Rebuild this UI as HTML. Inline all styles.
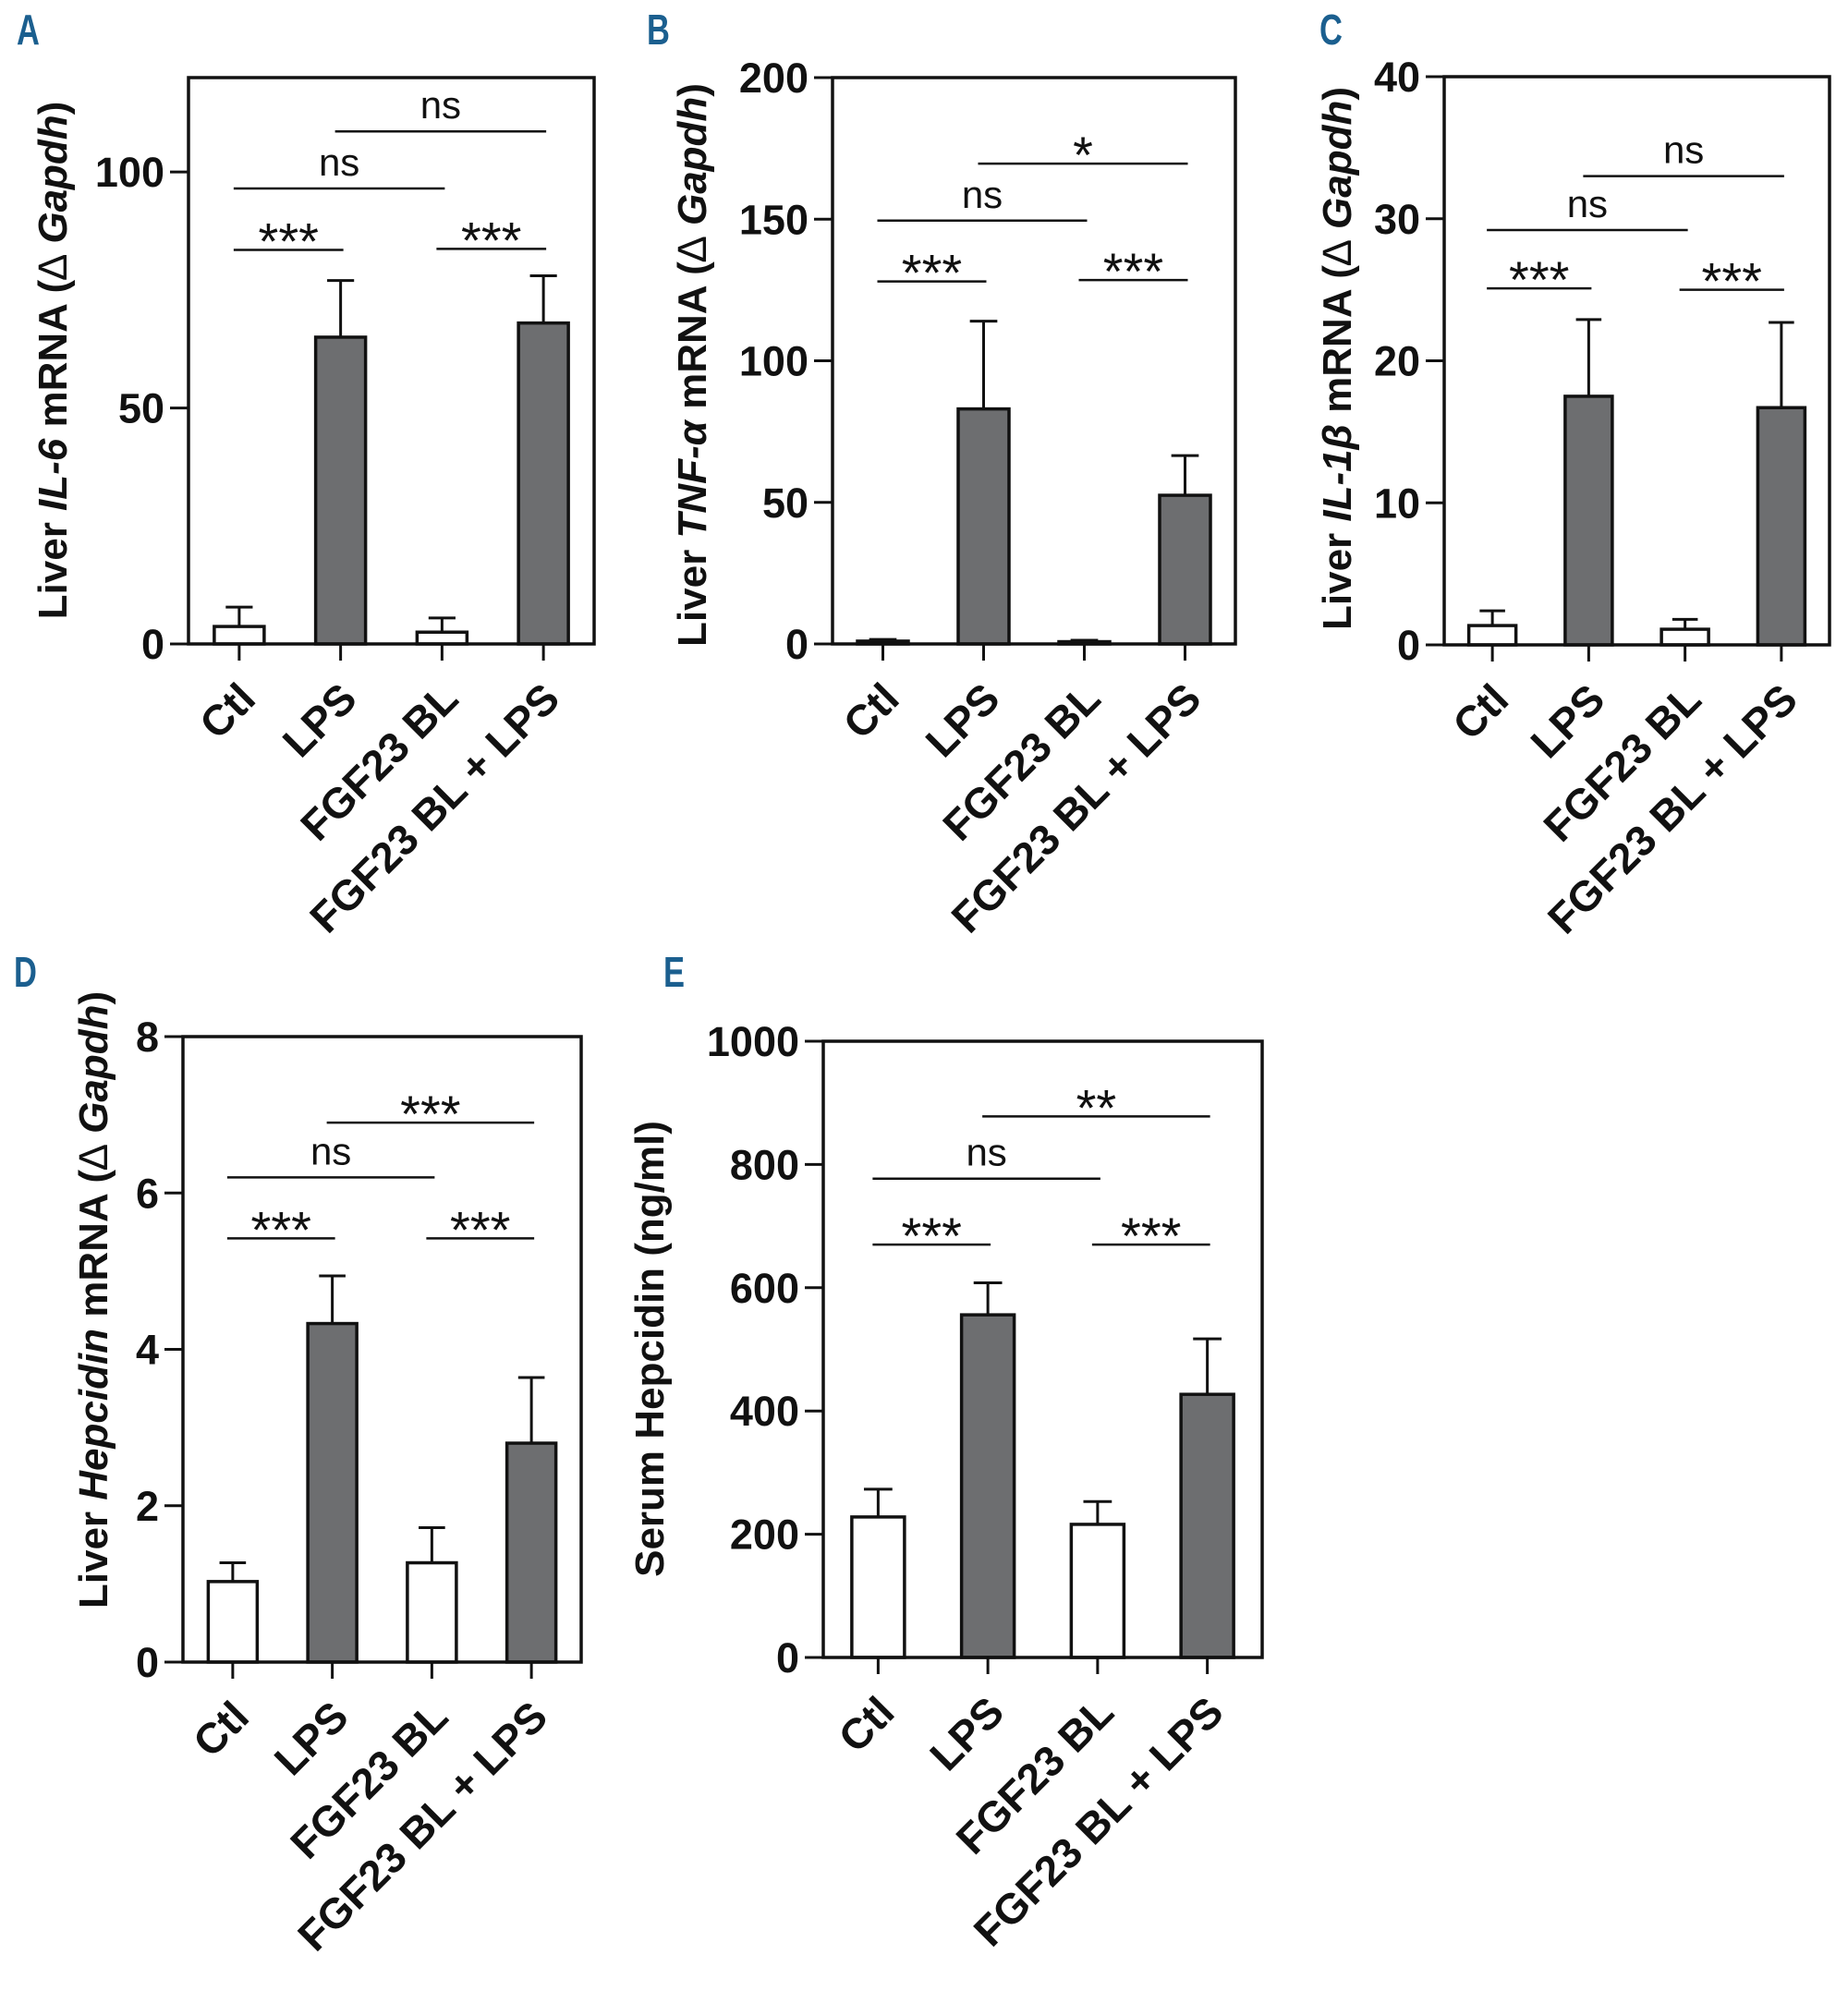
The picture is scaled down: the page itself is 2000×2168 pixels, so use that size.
<!DOCTYPE html>
<html><head><meta charset="utf-8">
<style>
html,body{margin:0;padding:0;background:#fff;}
svg{display:block;font-family:"Liberation Sans",Arial,sans-serif;}
</style></head>
<body>
<svg id="fig" width="2000" height="2168" viewBox="0 0 2000 2168" xmlns="http://www.w3.org/2000/svg"></svg>
<script>
// ---- data ----
const categories = ["Ctl", "LPS", "FGF23 BL", "FGF23 BL + LPS"];
const darkBars = [false, true, false, true];

const aMeans = [3.7, 65, 2.5, 68];
const aErrs = [4.1, 12, 3.0, 10];
const aTicks = [0, 50, 100];
const aBrackets = [[0,1,83.5,"***"],[2,3,83.7,"***"],[0,2,96.5,"ns"],[1,3,108.6,"ns"]];

const bMeans = [1.0, 83, 0.8, 52.5];
const bErrs = [0.6, 31, 0.5, 14];
const bTicks = [0, 50, 100, 150, 200];
const bBrackets = [[0,1,128,"***"],[2,3,128.5,"***"],[0,2,149.5,"ns"],[1,3,169.6,"*"]];

const cMeans = [1.36, 17.5, 1.1, 16.7];
const cErrs = [1.04, 5.4, 0.7, 6.0];
const cTicks = [0, 10, 20, 30, 40];
const cBrackets = [[0,1,25.1,"***"],[2,3,25,"***"],[0,2,29.2,"ns"],[1,3,33.0,"ns"]];

const dMeans = [1.03, 4.33, 1.27, 2.8];
const dErrs = [0.24, 0.61, 0.45, 0.84];
const dTicks = [0, 2, 4, 6, 8];
const dBrackets = [[0,1,5.42,"***"],[2,3,5.42,"***"],[0,2,6.2,"ns"],[1,3,6.9,"***"]];

const eMeans = [228, 556, 216, 427];
const eErrs = [45, 52, 37, 90];
const eTicks = [0, 200, 400, 600, 800, 1000];
const eBrackets = [[0,1,670,"***"],[2,3,670,"***"],[0,2,777,"ns"],[1,3,878,"**"]];

// ---- rendering ----
const NS = "http://www.w3.org/2000/svg";
const svg = document.getElementById("fig");
function mk(tag, attrs, parent){
  const e = document.createElementNS(NS, tag);
  for (const k in attrs) e.setAttribute(k, attrs[k]);
  (parent||svg).appendChild(e);
  return e;
}

function panel(p){
  const g = mk("g", {});
  
  
  const yS = v => p.y0 - (v - 0) / p.ymax * (p.y0 - p.top);
  const bw = (p.right - p.left) / categories.length;
  const xS = i => p.left + (i + 0.5) * bw;
  const barW = p.barW;

  const L = mk("text", {x:p.lx, y:p.ly, "font-size":46, "font-weight":"bold", fill:"#1b5f8f", transform:`translate(${p.lx} ${p.ly}) scale(0.75 1) translate(${-p.lx} ${-p.ly})`}, g);
  L.textContent = p.letter;
  
  

  categories.forEach((c, i) => {
    const x = xS(i), y = yS(p.means[i]), ye = yS(p.means[i] + p.errs[i]);
    const eb = mk("path", {d:`M${x} ${y}V${ye}M${x-barW*0.27} ${ye}H${x+barW*0.27}`, stroke:"#111", "stroke-width":3, fill:"none"}, g);
    
    
    const r = mk("rect", {x:x-barW/2, y:y, width:barW, height:p.y0-y, fill:darkBars[i]?"#6d6e70":"#fff", stroke:"#111", "stroke-width":3.5}, g);
    
    
    const t = mk("line", {x1:x, x2:x, y1:p.y0, y2:p.y0+18, stroke:"#111", "stroke-width":3}, g);
    
    
    const lab = mk("text", {transform:`translate(${x+20} ${p.y0+62}) rotate(-45)`, "text-anchor":"end", "font-size":46, "font-weight":"bold", fill:"#111"}, g);
    lab.textContent = c;
    
    
  });

  const fr = mk("path", {d:`M${p.left} ${p.top}V${p.y0}H${p.right}V${p.top}Z`, stroke:"#111", "stroke-width":3.5, fill:"none"}, g);
  
  

  p.ticks.forEach(v => {
    const y = yS(v);
    const t = mk("line", {x1:p.left-20, x2:p.left, y1:y, y2:y, stroke:"#111", "stroke-width":3}, g);
    
    
    const tl = mk("text", {x:p.left-26, y:y+16, "text-anchor":"end", "font-size":45, "font-weight":"bold", fill:"#111"}, g);
    tl.textContent = v;
    
    
  });

  p.brackets.forEach(b => {
    const x1 = xS(b[0]) - 6, x2 = xS(b[1]) + 3, y = yS(b[2]);
    const ln = mk("line", {x1:x1, x2:x2, y1:y, y2:y, stroke:"#111", "stroke-width":2.5}, g);
    
    
    const isStar = b[3].indexOf("*") >= 0;
    const st = mk("text", {x:(x1+x2)/2, y:isStar ? y+10 : y-14, "text-anchor":"middle", "font-size":isStar?56:42, fill:"#111"}, g);
    st.textContent = b[3];
    
    
  });

  const yt = mk("text", {transform:`translate(${p.tx} ${p.ty}) rotate(-90)`, "text-anchor":"middle", "font-size":44, "font-weight":"bold", fill:"#111"}, g);
  p.title.forEach(part => {
    const ts = mk("tspan", {}, yt);
    if (part[1] === "i") ts.setAttribute("font-style", "italic");
    if (part[1] === "n") ts.setAttribute("font-weight", "normal");
    ts.textContent = part[0];
  });
  
  
}

panel({name:"panel-a", letter:"A", lx:18, ly:48, left:204, right:643, top:84, y0:697, ymax:120, barW:54,
  means:aMeans, errs:aErrs, ticks:aTicks, brackets:aBrackets, tx:72, ty:390,
  title:[["Liver ",""],["IL-6",'i'],[" mRNA (",""],["∆","n"],[" ",""],["Gapdh","i"],[")",""]]});
panel({name:"panel-b", letter:"B", lx:700, ly:48, left:901, right:1337, top:84, y0:697, ymax:200, barW:55,
  means:bMeans, errs:bErrs, ticks:bTicks, brackets:bBrackets, tx:764, ty:395,
  title:[["Liver ",""],["TNF-α",'i'],[" mRNA (",""],["∆","n"],[" ",""],["Gapdh","i"],[")",""]]});
panel({name:"panel-c", letter:"C", lx:1428, ly:48, left:1563, right:1980, top:83, y0:698, ymax:40, barW:51,
  means:cMeans, errs:cErrs, ticks:cTicks, brackets:cBrackets, tx:1462, ty:388,
  title:[["Liver ",""],["IL-1β",'i'],[" mRNA (",""],["∆","n"],[" ",""],["Gapdh","i"],[")",""]]});
panel({name:"panel-d", letter:"D", lx:15, ly:1068, left:198, right:629, top:1122, y0:1799, ymax:8, barW:53,
  means:dMeans, errs:dErrs, ticks:dTicks, brackets:dBrackets, tx:116, ty:1407,
  title:[["Liver ",""],["Hepcidin",'i'],[" mRNA (",""],["∆","n"],[" ",""],["Gapdh","i"],[")",""]]});
panel({name:"panel-e", letter:"E", lx:718, ly:1068, left:891, right:1366, top:1127, y0:1794, ymax:1000, barW:57,
  means:eMeans, errs:eErrs, ticks:eTicks, brackets:eBrackets, tx:718, ty:1460,
  title:[["Serum Hepcidin (ng/ml)",""]]});
</script>
</body></html>
